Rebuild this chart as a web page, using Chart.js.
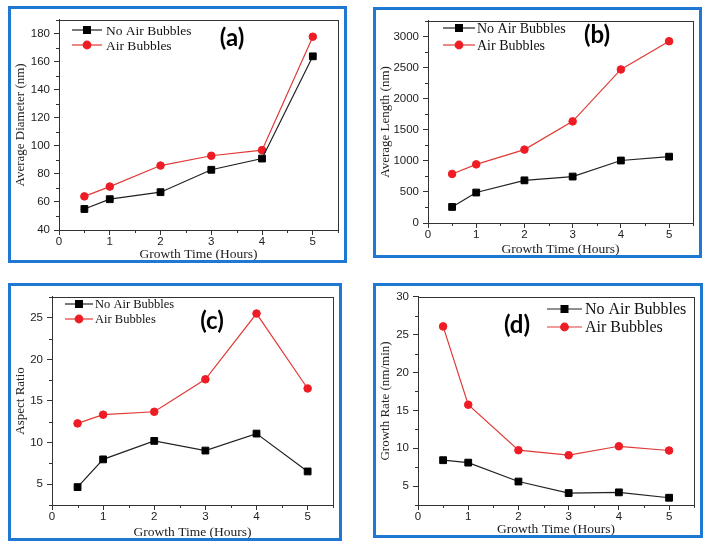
<!DOCTYPE html>
<html>
<head>
<meta charset="utf-8">
<script src="https://cdn.jsdelivr.net/npm/chart.js@4.4.1/dist/chart.umd.min.js"></script>
<style>
  html, body { margin: 0; padding: 0; background: #fff; }
  body { width: 714px; height: 550px; position: relative; overflow: hidden; }
  .panel { position: absolute; box-sizing: border-box; border: 3px solid #1f78d2; background: #fff; }
  .panel canvas { display: block; }
</style>
</head>
<body>
<div class="panel" style="left:8px;top:6px;width:339px;height:257px"><canvas id="chartA" width="333" height="251"></canvas></div>
<div class="panel" style="left:373px;top:7px;width:329px;height:251px"><canvas id="chartB" width="323" height="245"></canvas></div>
<div class="panel" style="left:8px;top:283px;width:334px;height:258px"><canvas id="chartC" width="328" height="252"></canvas></div>
<div class="panel" style="left:373px;top:283px;width:330px;height:255px"><canvas id="chartD" width="324" height="249"></canvas></div>

<script>
// data
const hours = [0.5, 1, 2, 3, 4, 5];
const hourTicks = [0, 1, 2, 3, 4, 5];

const diameterNoAir = [55, 62, 67, 83, 91, 164];
const diameterAir = [64, 71, 86, 93, 97, 178];
const diameterTicks = [40, 60, 80, 100, 120, 140, 160, 180];

const lengthNoAir = [258, 490, 686, 747, 1005, 1067];
const lengthAir = [789, 943, 1180, 1634, 2469, 2923];
const lengthTicks = [0, 500, 1000, 1500, 2000, 2500, 3000];

const ratioNoAir = [4.65, 7.98, 10.2, 9.04, 11.08, 6.53];
const ratioAir = [12.3, 13.35, 13.7, 17.6, 25.5, 16.5];
const ratioTicks = [5, 10, 15, 20, 25];

const rateNoAir = [8.42, 8.1, 5.6, 4.08, 4.17, 3.46];
const rateAir = [26.1, 15.75, 9.74, 9.08, 10.26, 9.7];
const rateTicks = [5, 10, 15, 20, 25, 30];

const AXIS = '#333';
const RED = '#ee1c24';

function points(ys) {
  return hours.map((h, i) => ({ x: h, y: ys[i] }));
}

function onlyListed(list) {
  return (v) => list.some(t => Math.abs(t - v) < 1e-6) ? v : '';
}

// major ticks drawn by chart.js, minor (unlabelled) ones hidden there and drawn short here
const majorTickColor = (c) => (c.tick && c.tick.label === '') ? 'rgba(0,0,0,0)' : AXIS;

// frame, minor ticks, legend with line + marker, panel tag
const decorations = {
  id: 'decorations',
  afterDraw(chart, args, opts) {
    const { ctx, chartArea: a } = chart;
    ctx.save();
    ctx.strokeStyle = AXIS;
    ctx.lineWidth = 1;
    ctx.strokeRect(Math.round(a.left) + 0.5, Math.round(a.top) + 0.5,
      Math.round(a.right - a.left), Math.round(a.bottom - a.top));

    const xs = chart.scales.x, ys = chart.scales.y;
    ctx.beginPath();
    xs.ticks.forEach((t, i) => {
      if (t.label !== '') return;
      const px = Math.round(xs.getPixelForTick(i)) + 0.5;
      ctx.moveTo(px, a.bottom);
      ctx.lineTo(px, a.bottom + 3);
    });
    ys.ticks.forEach((t, i) => {
      if (t.label !== '') return;
      const py = Math.round(ys.getPixelForTick(i)) + 0.5;
      ctx.moveTo(a.left, py);
      ctx.lineTo(a.left - 3, py);
    });
    ctx.stroke();

    ctx.font = opts.legendSize + 'px "Liberation Serif"';
    ctx.textBaseline = 'middle';
    ctx.textAlign = 'left';
    chart.data.datasets.forEach((ds, i) => {
      const y = opts.legendRows[i];
      const [x1, x2, xt] = opts.legendX;
      ctx.strokeStyle = ds.borderColor;
      ctx.lineWidth = ds.borderWidth;
      ctx.beginPath();
      ctx.moveTo(x1, y);
      ctx.lineTo(x2, y);
      ctx.stroke();
      ctx.fillStyle = ds.pointBackgroundColor;
      ctx.strokeStyle = ds.pointBorderColor;
      Chart.helpers.drawPoint(ctx, { pointStyle: ds.pointStyle, radius: ds.pointRadius, borderWidth: 1, rotation: 0 }, (x1 + x2) / 2, y);
      ctx.fillStyle = '#111';
      ctx.fillText(ds.label, xt, y + 1);
    });

    ctx.font = 'bold 24px Lato';
    ctx.textAlign = 'center';
    ctx.fillStyle = '#000';
    ctx.fillText(opts.tag, opts.tagPos[0], opts.tagPos[1]);
    ctx.restore();
  }
};

function makeChart(id, cfg) {
  new Chart(document.getElementById(id), {
    type: 'scatter',
    data: {
      datasets: [{
        label: 'No Air Bubbles',
        data: points(cfg.noAir),
        showLine: true,
        borderColor: '#222',
        borderWidth: 1.2,
        pointStyle: 'rect',
        pointRadius: 4.8,
        pointBackgroundColor: '#000',
        pointBorderColor: '#000',
        pointBorderWidth: 1
      }, {
        label: 'Air Bubbles',
        data: points(cfg.air),
        showLine: true,
        borderColor: '#e03a36',
        borderWidth: 1.2,
        pointStyle: 'circle',
        pointRadius: 3.8,
        pointBackgroundColor: RED,
        pointBorderColor: RED,
        pointBorderWidth: 1
      }]
    },
    options: {
      responsive: false,
      animation: false,
      layout: { padding: { left: 0, top: cfg.padTop, right: cfg.padRight, bottom: 0 } },
      plugins: {
        legend: { display: false },
        tooltip: { enabled: false },
        decorations: cfg.deco
      },
      scales: {
        x: {
          type: 'linear',
          min: 0,
          max: 5.5,
          afterFit: (axis) => { axis.height = cfg.xHeight; },
          border: { color: AXIS, width: 1 },
          grid: { drawOnChartArea: false, drawTicks: true, tickLength: 5, tickColor: majorTickColor },
          ticks: {
            stepSize: 0.5,
            autoSkip: false,
            maxRotation: 0,
            padding: 0,
            color: '#222',
            font: { family: '"Liberation Sans"', size: 11.5 },
            callback: onlyListed(hourTicks)
          },
          title: {
            display: true,
            text: 'Growth Time (Hours)',
            color: '#222',
            padding: { top: 0, bottom: -1 },
            font: { family: '"Liberation Serif"', size: 13.5, lineHeight: 1 }
          }
        },
        y: {
          type: 'linear',
          min: cfg.yMin,
          max: cfg.yMax,
          afterFit: (axis) => { axis.width = cfg.yWidth; },
          border: { color: AXIS, width: 1 },
          grid: { drawOnChartArea: false, drawTicks: true, tickLength: 5, tickColor: majorTickColor },
          ticks: {
            stepSize: cfg.yStep,
            autoSkip: false,
            padding: 4,
            color: '#222',
            font: { family: '"Liberation Sans"', size: 11.5 },
            callback: onlyListed(cfg.yTicks)
          },
          title: {
            display: true,
            text: cfg.yTitle,
            color: '#222',
            padding: { top: 2, bottom: 0 },
            font: { family: '"Liberation Serif"', size: 13, lineHeight: 1.2 }
          }
        }
      }
    },
    plugins: [decorations]
  });
}

makeChart('chartA', {
  noAir: diameterNoAir, air: diameterAir, yTicks: diameterTicks,
  yMin: 40, yMax: 190, yStep: 10, yTitle: 'Average Diameter (nm)',
  padTop: 8, padRight: 4, xHeight: 30, yWidth: 48,
  deco: { legendX: [61, 91, 95], legendRows: [21, 36], legendSize: 13.5, tag: '(a)', tagPos: [221, 29] }
});

makeChart('chartB', {
  noAir: lengthNoAir, air: lengthAir, yTicks: lengthTicks,
  yMin: 0, yMax: 3250, yStep: 250, yTitle: 'Average Length (nm)',
  padTop: 3, padRight: 5, xHeight: 32, yWidth: 52,
  deco: { legendX: [67, 99, 101], legendRows: [18, 35], legendSize: 14, tag: '(b)', tagPos: [221, 25] }
});

makeChart('chartC', {
  noAir: ratioNoAir, air: ratioAir, yTicks: ratioTicks,
  yMin: 2.5, yMax: 27.5, yStep: 2.5, yTitle: 'Aspect Ratio',
  padTop: 7, padRight: 4, xHeight: 33, yWidth: 41,
  deco: { legendX: [54, 82, 84], legendRows: [18, 33], legendSize: 12.5, tag: '(c)', tagPos: [201, 35] }
});

makeChart('chartD', {
  noAir: rateNoAir, air: rateAir, yTicks: rateTicks,
  yMin: 2.5, yMax: 30, yStep: 2.5, yTitle: 'Growth Rate (nm/min)',
  padTop: 9, padRight: 5, xHeight: 30, yWidth: 42,
  deco: { legendX: [171, 206, 209], legendRows: [23, 41], legendSize: 16, tag: '(d)', tagPos: [141, 39] }
});
</script>
</body>
</html>
